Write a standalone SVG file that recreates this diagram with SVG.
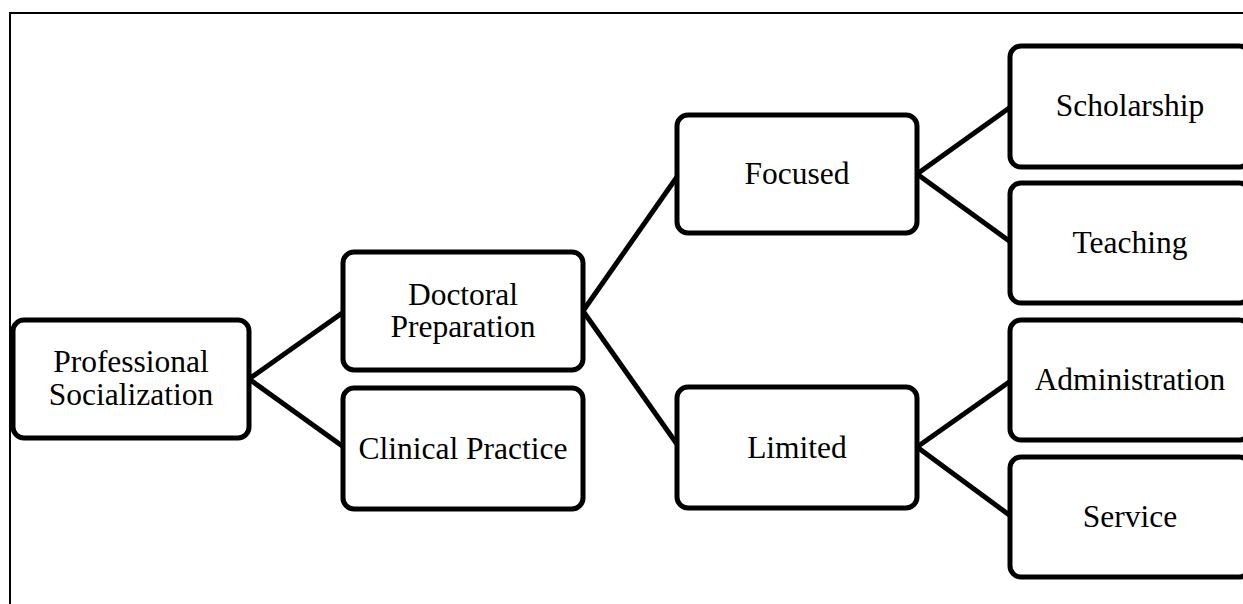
<svg xmlns="http://www.w3.org/2000/svg" width="1243" height="604" viewBox="0 0 1243 604">
<style>
.box{fill:#fff;stroke:#000;stroke-width:5;}
.lbl{font-family:"Liberation Serif","Times New Roman",serif;font-size:31.5px;fill:#000;text-anchor:middle;}
.conn line{stroke:#000;stroke-width:5;}
.frame{fill:none;stroke:#000;stroke-width:2;}
</style>
<rect width="1243" height="604" fill="#fff"/>
<path class="frame" d="M10,604 V13 H1243"/>
<g id="connectors" class="conn">
<line x1="249" y1="379" x2="345" y2="311"/>
<line x1="249" y1="379" x2="345" y2="448"/>
<line x1="583" y1="311" x2="679" y2="174"/>
<line x1="583" y1="311" x2="679" y2="447"/>
<line x1="917" y1="174" x2="1012" y2="106"/>
<line x1="917" y1="174" x2="1012" y2="243"/>
<line x1="917" y1="447" x2="1012" y2="380"/>
<line x1="917" y1="447" x2="1012" y2="517"/>
</g>
<g id="professional-socialization">
<rect class="box" x="13" y="320" width="236" height="118" rx="11"/>
<text class="lbl" x="131" y="372">Professional</text>
<text class="lbl" x="131" y="405">Socialization</text>
</g>
<g id="doctoral-preparation">
<rect class="box" x="343" y="252" width="240" height="118" rx="11"/>
<text class="lbl" x="463" y="305">Doctoral</text>
<text class="lbl" x="463" y="337">Preparation</text>
</g>
<g id="clinical-practice">
<rect class="box" x="343" y="388" width="240" height="121" rx="11"/>
<text class="lbl" x="463" y="459">Clinical Practice</text>
</g>
<g id="focused">
<rect class="box" x="677" y="115" width="240" height="118" rx="11"/>
<text class="lbl" x="797" y="184">Focused</text>
</g>
<g id="limited">
<rect class="box" x="677" y="387" width="240" height="121" rx="11"/>
<text class="lbl" x="797" y="458">Limited</text>
</g>
<g id="scholarship">
<rect class="box" x="1010" y="46" width="240" height="121" rx="11"/>
<text class="lbl" x="1130" y="116">Scholarship</text>
</g>
<g id="teaching">
<rect class="box" x="1010" y="183" width="240" height="120" rx="11"/>
<text class="lbl" x="1130" y="253">Teaching</text>
</g>
<g id="administration">
<rect class="box" x="1010" y="320" width="240" height="120" rx="11"/>
<text class="lbl" x="1130" y="390">Administration</text>
</g>
<g id="service">
<rect class="box" x="1010" y="457" width="240" height="120" rx="11"/>
<text class="lbl" x="1130" y="527">Service</text>
</g>
</svg>
